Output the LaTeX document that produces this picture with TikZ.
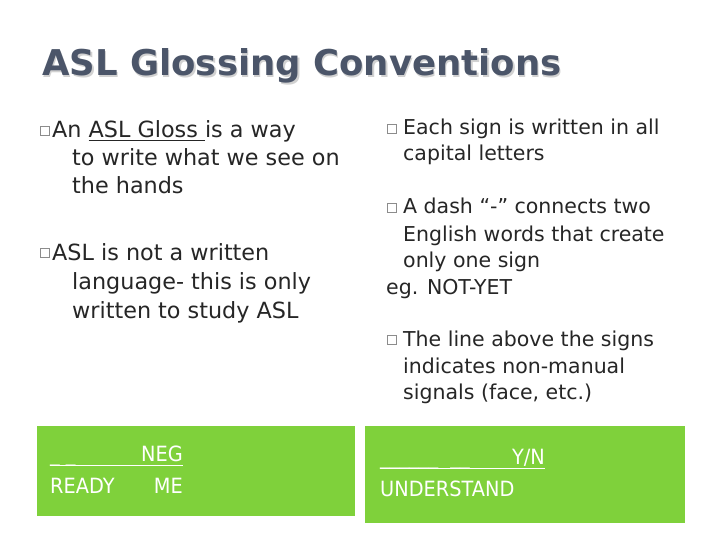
\documentclass[tikz,border=0pt]{standalone}
\usepackage{fontspec}
\setmainfont{DejaVu Sans}
\begin{document}
\begin{tikzpicture}[x=1pt,y=-1pt,
  txt/.style={anchor=base west,inner sep=0,font=\fontsize{22.3}{22}\selectfont,text=black!85},
  rtxt/.style={anchor=base west,inner sep=0,font=\fontsize{20.5}{20}\selectfont,text=black!85},
  bul/.style={draw=black!45,line width=0.5pt,minimum size=9pt,inner sep=0,anchor=center},
  wtxt/.style={anchor=base west,inner sep=0,font=\fontsize{21}{21}\selectfont\addfontfeature{FakeStretch=0.92},text=white}]
\definecolor{gr}{HTML}{7FD13B}
\definecolor{tt}{HTML}{4B5569}
\useasboundingbox (0,0) rectangle (720,540);
\fill[white] (0,0) rectangle (720,540);
\node (shadow) [anchor=base west,inner sep=0,font=\fontsize{35.5}{35}\selectfont\bfseries,text=black!18] at (43.5,77.5) {ASL Glossing Conventions};
\node (title) [anchor=base west,inner sep=0,font=\fontsize{35.5}{35}\selectfont\bfseries,text=tt] at (42,76) {ASL Glossing Conventions};
% left column
\node (b1) [bul] at (45,131) {};
\node (l1) [txt] at (52,138) {An \underline{ASL Gloss }is a way};
\node (l2) [txt] at (72,166) {to write what we see on};
\node (l3) [txt] at (72,194) {the hands};
\node (b2) [bul] at (45,253) {};
\node (l4) [txt] at (52,260) {ASL is not a written};
\node (l5) [txt] at (72,289) {language- this is only};
\node (l6) [txt] at (72,318) {written to study ASL};
% right column
\node (b3) [bul] at (392,129) {};
\node (r1) [rtxt] at (403,135) {Each sign is written in all};
\node (r2) [rtxt] at (403,161) {capital letters};
\node (b4) [bul] at (392,208) {};
\node (r3) [rtxt] at (403,214) {A dash “-” connects two};
\node (r4) [rtxt] at (403,241) {English words that create};
\node (r5) [rtxt] at (403,267) {only one sign};
\node (r6) [rtxt] at (386,294) {eg. NOT-YET};
\node (b5) [bul] at (392,340) {};
\node (r7) [rtxt] at (403,346) {The line above the signs};
\node (r8) [rtxt] at (403,373) {indicates non-manual};
\node (r9) [rtxt] at (403,399) {signals (face, etc.)};
% green boxes
\fill[gr] (37,426) rectangle (355,516);
\fill[gr] (365,426) rectangle (685,523);
\node (g1) [wtxt] at (50,461) {\_ \_};
\node (g1b) [wtxt,anchor=base east] at (183,461) {NEG};
\draw[white,line width=0.8pt] (50,465) -- (183,465);
\node (g2) [wtxt] at (50,493) {READY};
\node (g2b) [wtxt,anchor=base east] at (183,493) {ME};
\node (g3) [wtxt] at (380,464) {\_\_\_\_\_\_\ \ \_\_};
\node (g3b) [wtxt,anchor=base east] at (545,464) {Y/N};
\draw[white,line width=0.8pt] (380,468) -- (545,468);
\node (g4) [wtxt] at (380,496) {UNDERSTAND};
\end{tikzpicture}
\end{document}
